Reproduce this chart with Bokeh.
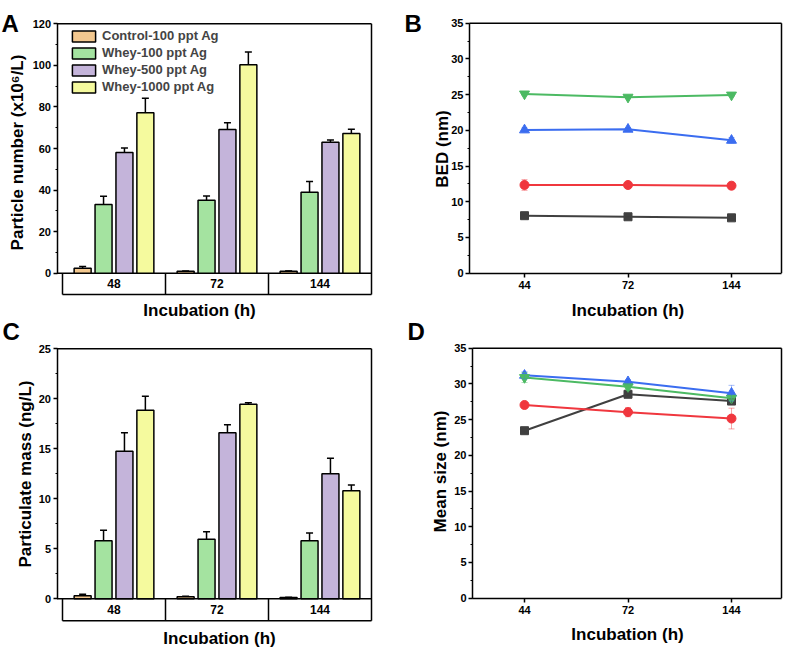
import math

from bokeh.core.properties import value
from bokeh.embed import file_html
from bokeh.layouts import column, row
from bokeh.models import (ColumnDataSource, FixedTicker, Legend, LegendItem, Range1d,
                          SingleIntervalTicker, TeeHead, Whisker)
from bokeh.plotting import figure
from bokeh.resources import INLINE

FONT = "Liberation Sans"

# ---- incubation times -------------------------------------------------------
bar_times = ["48", "72", "144"]
line_times = ["44", "72", "144"]

# ---- bar series (panels A and C) ---------------------------------------------
bar_series = ["Control-100 ppt Ag", "Whey-100 ppt Ag", "Whey-500 ppt Ag", "Whey-1000 ppt Ag"]
bar_colors = ["#f3c88f", "#a4e3a0", "#c4b4da", "#f5fa9e"]

# particle number (x10^6/L) and SD
number_control = [2.4, 0.9, 0.9]
number_whey100 = [33.0, 35.1, 39.0]
number_whey500 = [58.1, 69.1, 63.0]
number_whey1000 = [77.2, 100.3, 67.2]
number_control_sd = [0.8, 0.2, 0.2]
number_whey100_sd = [4.0, 2.0, 5.1]
number_whey500_sd = [2.2, 3.3, 1.1]
number_whey1000_sd = [7.0, 6.1, 2.1]

# particulate mass (ng/L) and SD
mass_control = [0.3, 0.2, 0.12]
mass_whey100 = [5.8, 5.95, 5.8]
mass_whey500 = [14.75, 16.6, 12.5]
mass_whey1000 = [18.85, 19.45, 10.8]
mass_control_sd = [0.15, 0.05, 0.03]
mass_whey100_sd = [1.05, 0.75, 0.78]
mass_whey500_sd = [1.85, 0.8, 1.55]
mass_whey1000_sd = [1.4, 0.15, 0.58]

# ---- line series (panels B and D) --------------------------------------------
line_colors = ["#404040", "#f0373e", "#3b6df0", "#4cba63"]
line_markers = ["square", "circle", "triangle", "inverted_triangle"]
line_marker_sizes = [8, 9, 10, 10]

# BED (nm) and SD
bed_square = [8.05, 7.9, 7.75]
bed_circle = [12.35, 12.35, 12.25]
bed_triangle = [20.05, 20.15, 18.6]
bed_inverted = [25.1, 24.65, 24.95]
bed_square_sd = [0.1, 0.1, 0.1]
bed_circle_sd = [0.75, 0.3, 0.5]
bed_triangle_sd = [0.3, 0.2, 0.4]
bed_inverted_sd = [0.2, 0.2, 0.2]

# mean size (nm) and SD
size_square = [23.45, 28.55, 27.6]
size_circle = [27.05, 26.05, 25.15]
size_triangle = [31.2, 30.3, 28.7]
size_inverted = [30.9, 29.6, 28.0]
size_square_sd = [0.2, 0.3, 0.3]
size_circle_sd = [0.3, 0.65, 1.45]
size_triangle_sd = [0.5, 0.3, 1.1]
size_inverted_sd = [0.7, 0.4, 0.3]

BAR_WIDTH = 0.165
BAR_STEP = 0.203

TOP_H = 331      # height of the upper row of figures
OVERLAP = 18     # the lower row is pulled up by this much (transparent fill)
BOTTOM_H = 651 - TOP_H + OVERLAP


class Panel:
    """A figure whose plot frame fills the whole canvas; axes sit at fixed
    data locations inside it, so every label can be placed by pixel."""

    def __init__(self, width, height, x_origin, x_scale, y_origin, y_scale,
                 x_axis=True, margin=0):
        self.xo, self.xs = x_origin, x_scale
        self.yo, self.ys = y_origin, y_scale
        self.p = figure(width=width, height=height, output_backend="svg",
                        toolbar_location=None, min_border=0,
                        margin=(margin, 0, 0, 0),
                        x_range=Range1d(-x_origin / x_scale, (width - x_origin) / x_scale),
                        y_range=Range1d((y_origin - height) / y_scale, y_origin / y_scale),
                        x_axis_location="below" if x_axis else None)
        self.p.outline_line_color = None
        self.p.background_fill_alpha = 0
        self.p.border_fill_alpha = 0
        self.p.xgrid.visible = False
        self.p.ygrid.visible = False

    def X(self, px):
        return (px - self.xo) / self.xs

    def Y(self, py):
        return (self.yo - py) / self.ys

    def text(self, px, py, text, size, angle=0.0, align="center", baseline="middle"):
        self.p.text(x=[self.X(px)], y=[self.Y(py)], text=[text], angle=angle,
                    text_font=value(FONT), text_font_style="bold", text_font_size=size,
                    text_color="black", text_align=align, text_baseline=baseline)

    def letter(self, px, py, text):
        self.text(px, py, text, "24px", align="left", baseline="alphabetic")


def style_axis(ax):
    ax.axis_line_width = 1.5
    ax.major_tick_line_width = 1.5
    ax.minor_tick_line_width = 1.2
    ax.major_tick_out = 4
    ax.major_tick_in = 0
    ax.minor_tick_out = 2
    ax.minor_tick_in = 0
    ax.major_label_text_font = FONT
    ax.major_label_text_font_style = "bold"
    ax.major_label_text_font_size = "11px"
    ax.major_label_text_color = "black"


def y_axis(pn, x_at, lo, hi, interval):
    ax = pn.p.yaxis[0]
    ax.ticker = SingleIntervalTicker(interval=interval, num_minor_ticks=2)
    ax.fixed_location = x_at
    ax.bounds = (lo, hi)
    ax.major_label_standoff = 2
    style_axis(ax)


def bar_panel(pn, means, sds, y_top, y_box, interval, ylabel, ylab_pos, xlab_pos,
              legend=None):
    p = pn.p
    x_left = pn.X(56.5)
    y_axis(pn, x_left, 0, y_top, interval)

    # top and right borders, baseline and the time table underneath
    p.segment(x0=[x_left, 2.5, x_left, -0.5, -0.5, 0.5, 1.5],
              y0=[y_top, -y_box, 0, -y_box, -y_box, -y_box, -y_box],
              x1=[2.5, 2.5, 2.5, -0.5, 2.5, 0.5, 1.5],
              y1=[y_top, y_top, 0, 0, -y_box, 0, 0],
              line_color="black", line_width=1.5)
    p.text(x=[0, 1, 2], y=[-y_box / 2] * 3, text=bar_times, text_font=value(FONT),
           text_font_style="bold", text_font_size="12px", text_align="center",
           text_baseline="middle", text_color="black")

    items = []
    for i, (name, color, m, s) in enumerate(zip(bar_series, bar_colors, means, sds)):
        xs = [g + (i - 1.5) * BAR_STEP for g in range(3)]
        src = ColumnDataSource(dict(x=xs, top=m, upper=[a + b for a, b in zip(m, s)]))
        r = p.vbar(x="x", top="top", bottom=0, width=BAR_WIDTH, source=src,
                   fill_color=color, line_color="black", line_width=1.5)
        p.add_layout(Whisker(source=src, base="x", lower="top", upper="upper",
                             line_color="black", line_width=1.5, lower_head=None,
                             upper_head=TeeHead(size=7, line_color="black", line_width=1.5)))
        items.append(LegendItem(label=name, renderers=[r]))

    if legend is not None:
        lg = Legend(items=items, location=legend, border_line_color=None,
                    background_fill_alpha=0, padding=0, margin=0, spacing=2,
                    glyph_width=29, glyph_height=14, label_height=14,
                    label_standoff=4, label_text_font=FONT,
                    label_text_font_style="bold", label_text_font_size="13px")
        p.add_layout(lg)

    pn.text(*ylab_pos, ylabel, "17px", angle=math.pi / 2)
    pn.text(*xlab_pos, "Incubation (h)", "17px")
    return p


def line_panel(pn, means, sds, ylabel, left_px, right_px, ylab_pos, xlab_pos):
    p = pn.p
    x_left, x_right = pn.X(left_px), pn.X(right_px)
    y_axis(pn, x_left, 0, 35, 5)

    ax = p.xaxis[0]
    ax.ticker = FixedTicker(ticks=[0, 1, 2], minor_ticks=[])
    ax.major_label_overrides = {i: t for i, t in enumerate(line_times)}
    ax.fixed_location = 0
    ax.bounds = (x_left, x_right)
    ax.major_label_standoff = 4
    style_axis(ax)

    # top and right borders of the plot box
    p.segment(x0=[x_left, x_right], y0=[35, 0], x1=[x_right, x_right], y1=[35, 35],
              line_color="black", line_width=1.5)

    for m, s, color, marker, size in zip(means, sds, line_colors, line_markers,
                                         line_marker_sizes):
        src = ColumnDataSource(dict(x=[0, 1, 2], y=m,
                                    lo=[a - b for a, b in zip(m, s)],
                                    hi=[a + b for a, b in zip(m, s)]))
        p.add_layout(Whisker(source=src, base="x", lower="lo", upper="hi",
                             line_color=color, line_alpha=0.45, line_width=1,
                             lower_head=TeeHead(size=6, line_color=color, line_alpha=0.45),
                             upper_head=TeeHead(size=6, line_color=color, line_alpha=0.45),
                             level="glyph"))
        p.line("x", "y", source=src, line_color=color, line_width=2)
        p.scatter("x", "y", source=src, marker=marker, size=size,
                  fill_color=color, line_color=color)

    pn.text(*ylab_pos, ylabel, "17px", angle=math.pi / 2)
    pn.text(*xlab_pos, "Incubation (h)", "17px")
    return p


# upper row: page y 0..331
panel_a = Panel(400, TOP_H, 113.5, 103, 272.7, 2.0783, x_axis=False)
pa = bar_panel(panel_a,
               [number_control, number_whey100, number_whey500, number_whey1000],
               [number_control_sd, number_whey100_sd, number_whey500_sd, number_whey1000_sd],
               120, 10.25, 20, "Particle number (x10\u2076/L)",
               (17, 152), (199, 310), legend=(69, TOP_H - 28 - 66))
panel_a.letter(1, 23, "A")

panel_b = Panel(385, TOP_H, 124, 103.5, 272.7, 7.1429)
pb = line_panel(panel_b, [bed_square, bed_circle, bed_triangle, bed_inverted],
                [bed_square_sd, bed_circle_sd, bed_triangle_sd, bed_inverted_sd],
                "BED (nm)", 69, 381, (42, 148.5), (227.5, 310))
panel_b.letter(4, 23, "B")

# lower row: page y 313..651 (local y = page y - 313)
panel_c = Panel(400, BOTTOM_H, 113.5, 103, 285.3, 10.0, x_axis=False, margin=-OVERLAP)
pc = bar_panel(panel_c,
               [mass_control, mass_whey100, mass_whey500, mass_whey1000],
               [mass_control_sd, mass_whey100_sd, mass_whey500_sd, mass_whey1000_sd],
               25, 2.2, 5, "Particulate mass (ng/L)", (25, 160.5), (219, 325))
panel_c.letter(2, 18, "C")

panel_d = Panel(385, BOTTOM_H, 124, 103.5, 284.7, 7.1429, margin=-OVERLAP)
pd = line_panel(panel_d, [size_square, size_circle, size_triangle, size_inverted],
                [size_square_sd, size_circle_sd, size_triangle_sd, size_inverted_sd],
                "Mean size (nm)", 72, 381, (40, 158), (227, 321))
panel_d.letter(7, 18, "D")

layout = column(row(pa, pb), row(pc, pd))

with open("out.html", "w") as f:
    f.write(file_html(layout, INLINE))
